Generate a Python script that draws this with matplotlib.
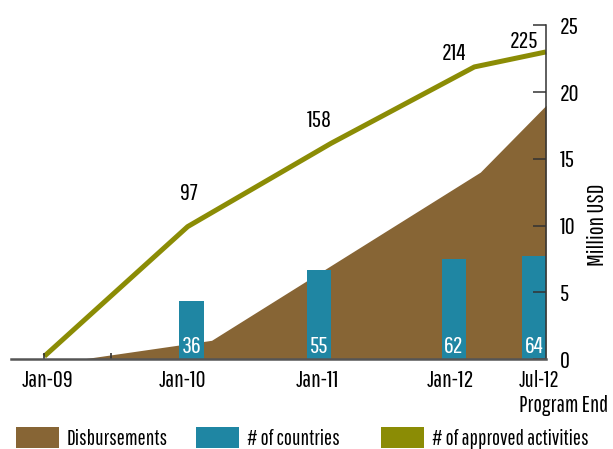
import matplotlib
matplotlib.use('Agg')
import matplotlib.pyplot as plt
from matplotlib.patches import Patch

plt.rcParams['font.family'] = ['Pathway Gothic One', 'DejaVu Sans']

# ---- data ----
tick_labels = ['Jan-09', 'Jan-10', 'Jan-11', 'Jan-12', 'Jul-12\nProgram End']
tick_months = [0.3, 11.6, 22.9, 34.0, 39.7]

disb_months = [3.2, 14.0, 36.5, 42.0]
disb_values = [0.0, 1.4, 14.0, 19.0]          # Million USD

country_months = [12.3, 23.0, 34.3, 41.0]
country_values = [36, 55, 62, 64]             # number of countries

activity_months = [0, 12, 24, 36, 42]
activity_values = [2, 97, 158, 214, 225]      # number of approved activities

legend_labels = ['Disbursements', '# of countries', '# of approved activities']

BROWN = '#876535'
TEAL = '#1f86a3'
OLIVE = '#8b8c05'

W, H = 613, 449
fig = plt.figure(figsize=(W / 100, H / 100), dpi=100)
rect = [11 / W, (H - 359) / H, (546 - 11) / W, (359 - 25.3) / H]

# disbursements area
ax = fig.add_axes(rect)
ax.fill_between(disb_months, disb_values, 0, color=BROWN, lw=0)
ax.set_xlim(-2.79, 42)
ax.set_ylim(0, 25)
ax.axis('off')

# countries bars
axc = fig.add_axes(rect, sharex=ax)
axc.patch.set_visible(False)
axc.bar(country_months, country_values, width=2.07, color=TEAL, lw=0)
axc.set_ylim(0, 207)
axc.axis('off')
for m, v in zip(country_months, country_values):
    axc.annotate(str(v), (m, 0), xytext=(0, 9), textcoords='offset points',
                 ha='center', va='center', color='white', fontsize=17.5)

# activities line
axa = fig.add_axes(rect, sharex=ax)
axa.patch.set_visible(False)
axa.plot(activity_months, activity_values, color=OLIVE, lw=3.6,
         solid_capstyle='butt', clip_on=False, zorder=5)
axa.set_ylim(0, 244.5)
axa.axis('off')
label_offsets = [(1, 24), (-8.6, 16.8), (-14.6, 10), (-15.5, 7.8)]
for m, v, off in zip(activity_months[1:], activity_values[1:], label_offsets):
    axa.annotate(str(v), (m, v), xytext=off, textcoords='offset points',
                 ha='center', va='center', color='black', fontsize=17.5)

# frame with axes
fr = fig.add_axes(rect, sharex=ax)
fr.patch.set_visible(False)
fr.set_ylim(0, 25)
for s in ['top', 'left']:
    fr.spines[s].set_visible(False)
fr.spines['right'].set_color('#333333')
fr.spines['right'].set_linewidth(1.1)
fr.spines['bottom'].set_color('#555555')
fr.spines['bottom'].set_linewidth(1.8)
fr.yaxis.tick_right()
fr.set_yticks(range(0, 26, 5))
fr.tick_params(axis='y', direction='in', length=9.4, width=1.1, color='#333333',
               pad=10, labelsize=17.5)
fr.set_xticks(tick_months, tick_labels)
fr.set_xticks([0, 5.6], minor=True)
fr.tick_params(axis='x', which='major', length=0, pad=8, labelsize=17.5)
fr.tick_params(axis='x', which='minor', direction='in', length=4, width=1.2,
               color='#333333')
last = fr.get_xticklabels()[-1]
last.set_horizontalalignment('left')
last.set_multialignment('left')
last.set_fontsize(16.5)

fig.text(598 / W, 1 - 225 / H, 'Million USD', rotation=90, ha='center',
         va='center', fontsize=17)

# legend
for x, c, lab in zip([16, 196, 381], [BROWN, TEAL, OLIVE], legend_labels):
    fig.legend(handles=[Patch(facecolor=c, edgecolor='none', label=lab)],
               loc='lower left', bbox_to_anchor=(x / W, 0),
               frameon=False, fontsize=15.5, handlelength=2.0, handleheight=1.1,
               handletextpad=0.37, borderpad=0, borderaxespad=0)

fig.savefig('out.png', dpi=100)
